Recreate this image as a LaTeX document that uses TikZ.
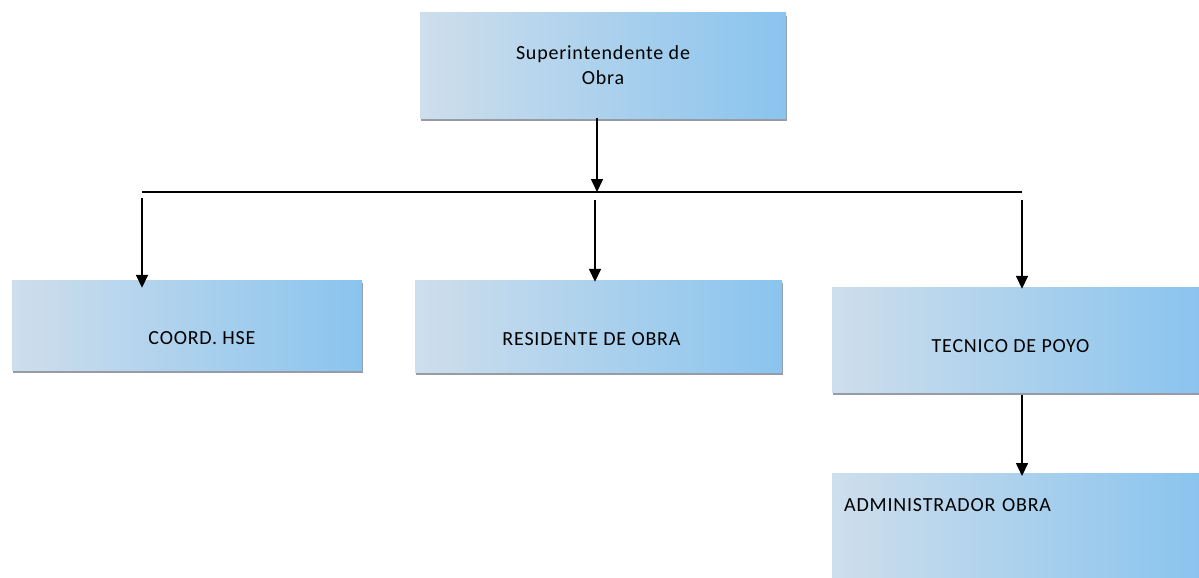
\documentclass[tikz,border=0pt]{standalone}
\usepackage{fontspec}
\setmainfont{Carlito}[LetterSpace=4]
\usetikzlibrary{arrows.meta,shadows}
\definecolor{boxL}{RGB}{206,222,236}
\definecolor{boxR}{RGB}{138,196,238}
\definecolor{shade}{RGB}{150,155,165}
\begin{document}
\begin{tikzpicture}[x=1pt,y=-1pt,
  orgbox/.style={draw=none, left color=boxL, right color=boxR,
    drop shadow={shadow xshift=1pt, shadow yshift=-3pt, fill=shade, opacity=1},
    font=\fontsize{20}{25}\selectfont, inner sep=0pt, align=center},
  link/.style={line width=1.6pt, draw=black},
  arr/.style={link, -{Triangle[length=13pt,width=12pt]}}]
\useasboundingbox (0,0) rectangle (1199,578);
\clip (0,0) rectangle (1199,578);
\fill[white] (0,0) rectangle (1199,578);

\node[orgbox, minimum width=366pt, minimum height=105pt] (sup) at (603,65.5) {Superintendente de\\Obra};
\node[orgbox, minimum width=350pt, minimum height=90pt, text height=39pt, text depth=0pt] (coord) at (187,325) {\hspace*{30pt}COORD. HSE};
\node[orgbox, minimum width=367pt, minimum height=92pt, text height=39pt, text depth=0pt] (resid) at (598.5,326) {RESIDENTE DE OBRA\hspace*{14pt}};
\node[orgbox, minimum width=367pt, minimum height=105pt, text height=25pt, text depth=0pt] (tec) at (1015.5,339.5) {TECNICO DE POYO\hspace*{10pt}};
\node[orgbox, anchor=north west, minimum width=367pt, minimum height=120pt, text width=345pt, align=left, text height=13pt, text depth=75pt, inner xsep=12pt, inner ysep=25pt] (adm) at (832,473) {ADMINISTRADOR OBRA};

\coordinate (j) at (597,192);
\coordinate (jl) at (142,192);
\coordinate (jr) at (1022,192);
\coordinate (sl) at (142,198);
\coordinate (sm) at (595,200);
\coordinate (sr) at (1022,200);

\draw[arr] (sup.south -| j) -- (j);
\draw[link] (jl) -- (jr);
\draw[arr] (sl) -- ([yshift=-8pt]coord.north -| sl);
\draw[arr] (sm) -- ([yshift=-2pt]resid.north -| sm);
\draw[arr] (sr) -- ([yshift=-2pt]tec.north -| sr);
\draw[arr] ([yshift=-3pt]tec.south -| sr) -- ([yshift=-3pt]adm.north -| sr);
\end{tikzpicture}
\end{document}
